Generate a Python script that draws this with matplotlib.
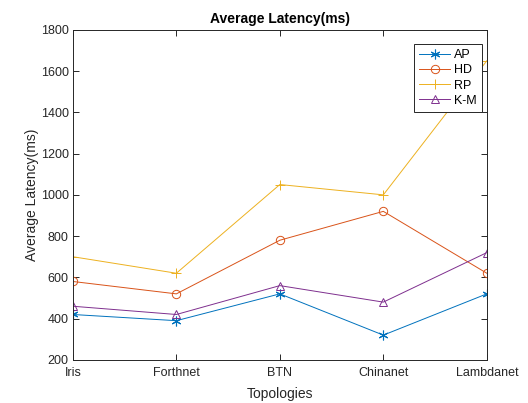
import matplotlib
matplotlib.use("Agg")
import matplotlib.pyplot as plt

plt.rcParams['font.family'] = ['Liberation Sans', 'DejaVu Sans']

topologies = ['Iris', 'Forthnet', 'BTN', 'Chinanet', 'Lambdanet']
ap = [420, 390, 520, 320, 520]
hd = [580, 520, 780, 920, 620]
rp = [700, 620, 1050, 1000, 1650]
km = [460, 420, 560, 480, 720]

fig = plt.figure(figsize=(5.28, 4.03), dpi=100)
ax = fig.add_axes([0.138, 0.107, 0.784, 0.819])

# MATLAB-like asterisk: six-armed marker
asterisk = (6, 2, 0)

x = range(len(topologies))
ax.plot(x, ap, '-', marker=asterisk, color=(0, 0.447, 0.741), lw=0.7, ms=7, mew=0.8, label='AP')
ax.plot(x, hd, '-o', color=(0.85, 0.325, 0.098), lw=0.7, ms=6, mfc='none', mew=0.7, label='HD')
ax.plot(x, rp, '-+', color=(0.929, 0.694, 0.125), lw=0.7, ms=7, mew=0.7, label='RP')
ax.plot(x, km, '-^', color=(0.494, 0.184, 0.556), lw=0.7, ms=6, mfc='none', mew=0.7, label='K-M')

ax.set_xlim(0, 4)
ax.set_ylim(200, 1800)
ax.set_xticks(list(x))
ax.set_xticklabels(topologies)
ax.set_yticks(range(200, 1801, 200))

dark = (0.15, 0.15, 0.15)
for s in ax.spines.values():
    s.set_color(dark)
    s.set_linewidth(0.7)
ax.tick_params(direction='in', top=True, right=True, length=4, width=0.7,
               colors=dark, labelsize=9)
ax.tick_params(axis='x', pad=5)
ax.tick_params(axis='y', pad=3)

ax.set_title('Average Latency(ms)', fontsize=10, fontweight='bold', color='black', pad=5)
ax.set_xlabel('Topologies', fontsize=10, color=dark, labelpad=6)
ax.set_ylabel('Average Latency(ms)', fontsize=10, color=dark, labelpad=1.5)

leg = ax.legend(loc='upper right', bbox_to_anchor=(0.988, 0.958), fontsize=9,
                fancybox=False, framealpha=1, edgecolor=dark, handlelength=2.5,
                borderpad=0.45, labelspacing=0.25, handletextpad=0.25,
                borderaxespad=0)
leg.get_frame().set_linewidth(0.7)

fig.savefig('out.png', dpi=100)
